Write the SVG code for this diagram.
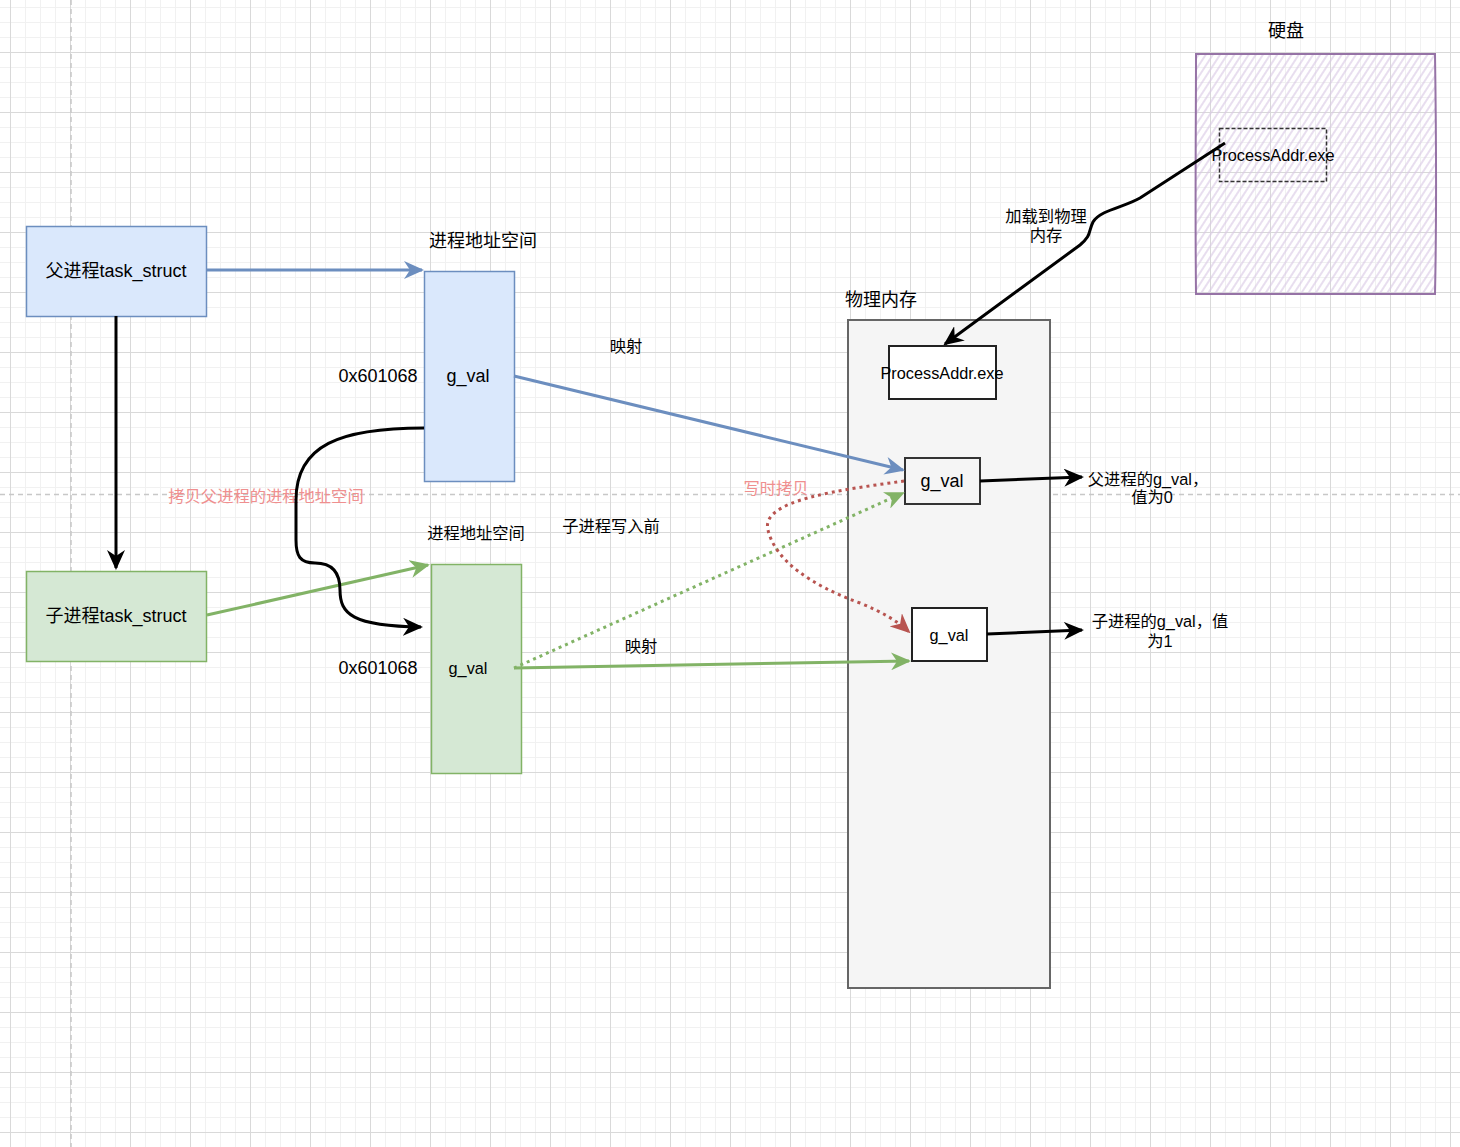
<svg xmlns="http://www.w3.org/2000/svg" width="1460" height="1147" viewBox="0 0 1460 1147">
<style>
text{font-family:"Liberation Sans","Noto Sans CJK SC",sans-serif;fill:#000;text-anchor:middle}
.t16{font-size:16.3px}
.t18{font-size:18px}
.red{fill:#ef8f8f}
.conn{fill:none;stroke-width:3}
.blk{stroke:#000}
.blue{stroke:#6c8ebf}
.green{stroke:#82b366}
.redl{stroke:#b85450}
.dot{stroke-dasharray:3 4}
</style>
<defs>
<pattern id="gMinor" x="10" y="7" width="15" height="15" patternUnits="userSpaceOnUse">
<path d="M0.5,0V15M0,0.5H15" stroke="#f1f1f1" stroke-width="1" fill="none"/>
</pattern>
<pattern id="gMajor" x="10" y="52" width="60" height="60" patternUnits="userSpaceOnUse">
<path d="M0.5,0V60M0,0.5H60" stroke="#d9d9d9" stroke-width="1" fill="none"/>
</pattern>
<pattern id="hatch" width="6" height="6" patternUnits="userSpaceOnUse" patternTransform="rotate(33)">
<line x1="3" y1="0" x2="3" y2="6" stroke="#d8c8e4" stroke-width="1.2"/>
</pattern>
<marker id="aBlk" markerUnits="userSpaceOnUse" markerWidth="20" markerHeight="18" viewBox="0 0 20 18" refX="18" refY="9" orient="auto"><path d="M0,0L20,9L0,18L6,9z" fill="#000"/></marker>
<marker id="aBlue" markerUnits="userSpaceOnUse" markerWidth="20" markerHeight="18" viewBox="0 0 20 18" refX="18" refY="9" orient="auto"><path d="M0,0L20,9L0,18L6,9z" fill="#6c8ebf"/></marker>
<marker id="aGreen" markerUnits="userSpaceOnUse" markerWidth="20" markerHeight="18" viewBox="0 0 20 18" refX="18" refY="9" orient="auto"><path d="M0,0L20,9L0,18L6,9z" fill="#82b366"/></marker>
<marker id="aRed" markerUnits="userSpaceOnUse" markerWidth="20" markerHeight="18" viewBox="0 0 20 18" refX="18" refY="9" orient="auto"><path d="M0,0L20,9L0,18L6,9z" fill="#b85450"/></marker>
</defs>
<g id="background">
<rect width="1460" height="1147" fill="#fff"/>
<rect width="1460" height="1147" fill="url(#gMinor)"/>
<rect width="1460" height="1147" fill="url(#gMajor)"/>
<line x1="71" y1="0" x2="71" y2="1147" stroke="#c8c8c8" stroke-width="1.5" stroke-dasharray="5 4"/>
<line x1="0" y1="494.5" x2="1460" y2="494.5" stroke="#c8c8c8" stroke-width="1.5" stroke-dasharray="5 4"/>
</g>
<g id="disk">
<rect x="1196" y="54" width="239" height="240" fill="url(#hatch)"/>
<path d="M1196,54 L1435,54 C1436,120 1437,200 1435,294 L1196,294 C1195,200 1196,120 1196,54Z" fill="none" stroke="#9673a6" stroke-width="2"/>
<text class="t18" x="1286" y="37">硬盘</text>
</g>
<g id="disk-exe">
<rect x="1219.5" y="128.5" width="107" height="53" fill="none" stroke="#333" stroke-width="1.5" stroke-dasharray="4 2"/>
<text class="t16" x="1273" y="161">ProcessAddr.exe</text>
</g>
<g id="parent-task">
<rect x="26.5" y="226.5" width="180" height="90" fill="#dae8fc" stroke="#6c8ebf" stroke-width="1.5"/>
<text class="t18" x="116" y="277">父进程task_struct</text>
</g>
<g id="parent-addr">
<rect x="424.5" y="271.5" width="90" height="210" fill="#dae8fc" stroke="#6c8ebf" stroke-width="1.5"/>
<text class="t18" x="483" y="247">进程地址空间</text>
<text class="t18" x="378" y="382">0x601068</text>
<text class="t18" x="468" y="382">g_val</text>
</g>
<g id="child-task">
<rect x="26.5" y="571.5" width="180" height="90" fill="#d5e8d4" stroke="#82b366" stroke-width="1.5"/>
<text class="t18" x="116" y="622">子进程task_struct</text>
</g>
<g id="child-addr">
<rect x="431.5" y="564.5" width="90" height="209" fill="#d5e8d4" stroke="#82b366" stroke-width="1.5"/>
<text class="t16" x="476" y="539">进程地址空间</text>
<text class="t18" x="378" y="674">0x601068</text>
<text class="t16" x="468" y="674">g_val</text>
</g>
<g id="phys-mem">
<rect x="848" y="320" width="202" height="668" fill="#f5f5f5" stroke="#666" stroke-width="2"/>
<text class="t18" x="881" y="306">物理内存</text>
</g>
<g id="phys-exe">
<rect x="889" y="346" width="107" height="53" fill="#fff" stroke="#222" stroke-width="2"/>
<text class="t16" x="942" y="379">ProcessAddr.exe</text>
</g>
<g id="phys-gval-parent">
<rect x="905" y="458" width="75" height="46" fill="#f5f5f5" stroke="#333" stroke-width="2"/>
<text class="t18" x="942" y="487">g_val</text>
</g>
<g id="phys-gval-child">
<rect x="912" y="608" width="75" height="53" fill="#fff" stroke="#222" stroke-width="2"/>
<text class="t16" x="949" y="641">g_val</text>
</g>
<g id="labels">
<text class="t16" x="626" y="352">映射</text>
<text class="t16" x="641" y="652">映射</text>
<text class="t16" x="611" y="532">子进程写入前</text>
<text class="t16 red" x="776" y="494">写时拷贝</text>
<text class="t16 red" x="266" y="502">拷贝父进程的进程地址空间</text>
<text class="t16" x="1148" y="485">父进程的g_val，</text>
<text class="t16" x="1152" y="503">值为0</text>
<text class="t16" x="1160" y="627">子进程的g_val，值</text>
<text class="t16" x="1160" y="647">为1</text>
<text class="t16" x="1046" y="222">加载到物理</text>
<text class="t16" x="1046" y="241">内存</text>
</g>
<g id="connectors">
<path class="conn blue" d="M207,270 L422,270" marker-end="url(#aBlue)"/>
<path class="conn blk" d="M116,316 L116,568" marker-end="url(#aBlk)"/>
<path class="conn green" d="M207,615 L428,565" marker-end="url(#aGreen)"/>
<path class="conn blk" d="M424,428 C340,428 296,445 296,500 L296,540 C296,556 300,563 315,563 C332,563 340,572 340,590 C340,614 352,626 421,627" marker-end="url(#aBlk)"/>
<path class="conn blue" d="M514,376 L903,470" marker-end="url(#aBlue)"/>
<path class="conn green" d="M514,668 L909,661" marker-end="url(#aGreen)"/>
<path class="conn green dot" d="M514,668 L903,493" marker-end="url(#aGreen)"/>
<path class="conn redl dot" d="M904,481 C840,490 760,500 768,530 C775,560 810,585 860,603 C882,612 896,620 909,632" marker-end="url(#aRed)"/>
<path class="conn blk" d="M980,481 L1082,477" marker-end="url(#aBlk)"/>
<path class="conn blk" d="M987,634 L1082,630" marker-end="url(#aBlk)"/>
<path class="conn blk" d="M1225,143 L1140,198 C1125,207 1100,210 1093,222 C1088,232 1092,235 1080,245 L945,344" marker-end="url(#aBlk)"/>
</g>
</svg>
